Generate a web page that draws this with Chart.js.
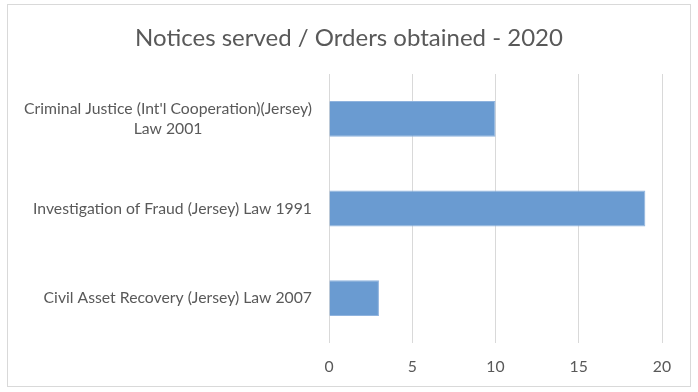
<!DOCTYPE html>
<html>
<head>
<meta charset="utf-8">
<script src="https://cdn.jsdelivr.net/npm/chart.js@4/dist/chart.umd.min.js"></script>
<style>
  html, body { margin: 0; padding: 0; background: #fff; }
  #wrap { position: relative; width: 698px; height: 392px; overflow: hidden; }
  #frame { position: absolute; left: 7px; top: 4px; width: 684px; height: 383px; border: 1px solid #d9d9d9; box-sizing: border-box; }
  #c { position: absolute; left: 0; top: 0; }
</style>
</head>
<body>
<div id="wrap">
  <div id="frame"></div>
  <canvas id="c" width="698" height="392"></canvas>
</div>
<script>
const chartTitle = "Notices served / Orders obtained - 2020";
const categories = [
  ["Criminal Justice (Int'l Cooperation)(Jersey)", "Law 2001"],
  ["Investigation of Fraud (Jersey) Law 1991"],
  ["Civil Asset Recovery (Jersey) Law 2007"]
];
const values = [10, 19, 3];
const xTicks = [0, 5, 10, 15, 20];

const textColor = '#595959';
const fontFamily = 'Lato, "Open Sans", sans-serif';
const labelFont = { family: fontFamily, size: 15.75 };

const yLabelPlugin = {
  id: 'yLabels',
  afterDraw(chart) {
    const ctx = chart.ctx;
    const y = chart.scales.y;
    const rightEdge = chart.chartArea.left - 17;
    ctx.save();
    ctx.font = labelFont.size + 'px ' + fontFamily;
    ctx.fillStyle = textColor;
    ctx.textAlign = 'center';
    ctx.textBaseline = 'middle';
    const lh = 20;
    categories.forEach((lines, i) => {
      const cy = y.getPixelForTick(i);
      const maxW = Math.max(...lines.map(l => ctx.measureText(l).width));
      const cx = rightEdge - maxW / 2;
      const y0 = cy - (lines.length - 1) * lh / 2;
      lines.forEach((l, k) => ctx.fillText(l, cx, y0 + k * lh));
    });
    ctx.restore();
  }
};

new Chart(document.getElementById('c'), {
  type: 'bar',
  data: {
    labels: categories,
    datasets: [{
      data: values,
      backgroundColor: '#6a9bd1',
      borderColor: '#8fb3de',
      borderWidth: 1,
      categoryPercentage: 1,
      barPercentage: 0.4
    }]
  },
  options: {
    indexAxis: 'y',
    responsive: false,
    animation: false,
    devicePixelRatio: 1,
    layout: { padding: { left: 36, right: 36, top: 0, bottom: 0 } },
    plugins: {
      legend: { display: false },
      tooltip: { enabled: false },
      title: {
        display: true,
        text: chartTitle,
        color: textColor,
        font: { family: fontFamily, size: 24, weight: 'normal' },
        padding: { top: 23.6, bottom: 21.6 }
      }
    },
    scales: {
      x: {
        min: 0,
        max: 20,
        afterBuildTicks(scale) { scale.ticks = xTicks.map(v => ({ value: v })); },
        afterFit(scale) { scale.height = 49; },
        grid: { display: true, color: '#d9d9d9', lineWidth: 1, drawTicks: false },
        border: { display: false },
        ticks: { color: textColor, font: labelFont, padding: 14 }
      },
      y: {
        afterFit(scale) { scale.width = 293; },
        grid: { display: false },
        border: { display: false },
        ticks: { display: false }
      }
    }
  },
  plugins: [yLabelPlugin]
});
</script>
</body>
</html>
